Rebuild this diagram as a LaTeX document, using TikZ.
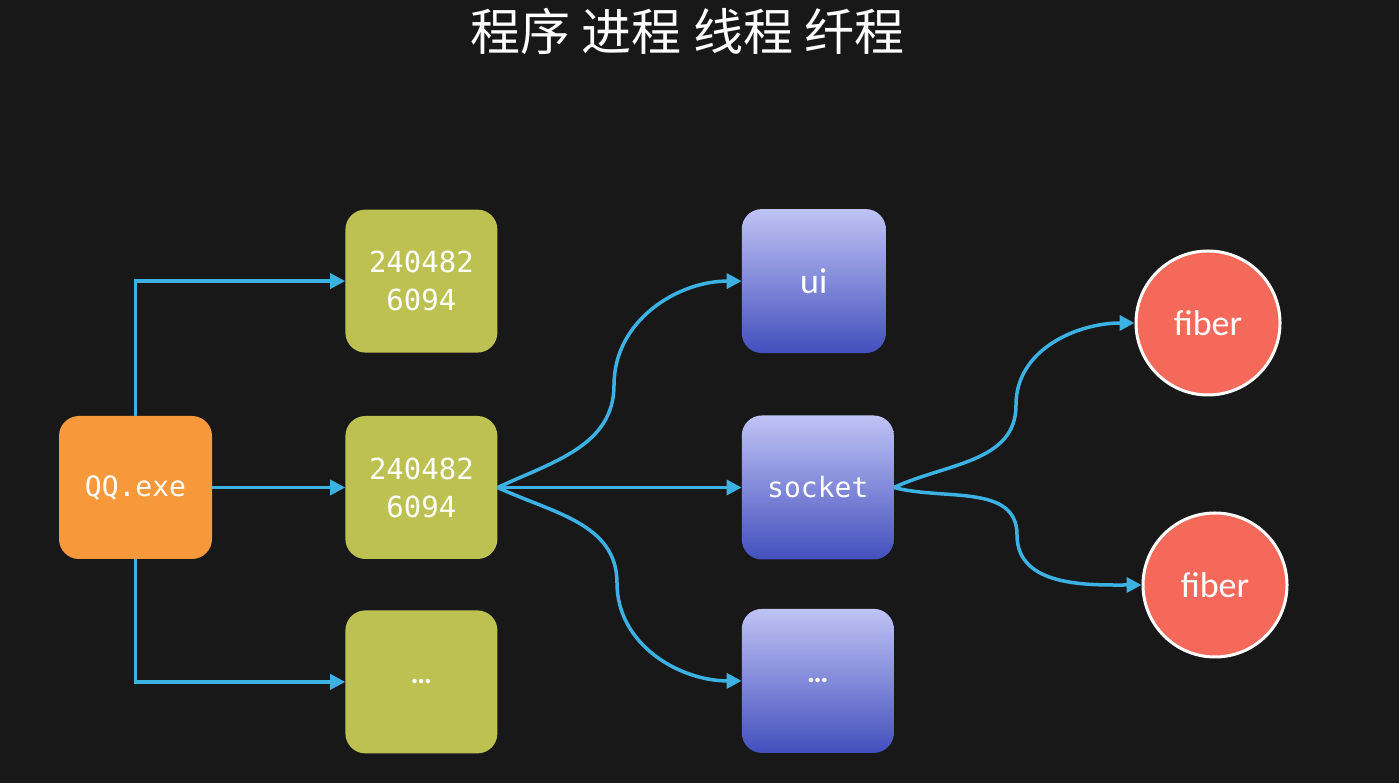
\documentclass[tikz,border=0pt]{standalone}
\usepackage{fontspec}
\setsansfont{Carlito}
\setmonofont{DejaVu Sans Mono}
\newfontfamily\cjk{Noto Sans CJK SC}
\usetikzlibrary{arrows.meta,positioning}
\definecolor{board}{HTML}{181818}
\definecolor{exeorange}{HTML}{F7993A}
\definecolor{pidgreen}{HTML}{BCC152}
\definecolor{thrtop}{HTML}{C0C3F5}
\definecolor{thrbot}{HTML}{4350BD}
\definecolor{fibred}{HTML}{F4695A}
\definecolor{wire}{HTML}{3CB2E4}
\tikzset{
  procbox/.style={
    rectangle, rounded corners=20pt, fill=exeorange, text=white,
    minimum width=153pt, minimum height=143pt,
    font=\fontsize{28}{32}\selectfont\ttfamily
  },
  pidbox/.style={
    rectangle, rounded corners=20pt, fill=pidgreen, text=white,
    minimum width=152pt, minimum height=143pt, align=center,
    font=\fontsize{29}{38}\selectfont\ttfamily
  },
  threadbox/.style={
    rectangle, rounded corners=20pt, top color=thrtop, bottom color=thrbot,
    text=white, minimum width=#1, minimum height=144pt
  },
  threadbox/.default=152pt,
  fiberball/.style={
    circle, draw=white, line width=3pt, fill=fibred, text=white,
    minimum size=144pt, font=\fontsize{36}{40}\selectfont\sffamily
  },
  flowarrow/.style={
    -{Triangle[length=15pt,width=15pt]}, line width=3.5pt, color=wire
  },
  dotsfont/.style={font=\fontsize{30}{34}\selectfont\sffamily\bfseries},
}

\begin{document}
\begin{tikzpicture}[x=1pt, y=1pt]
\fill[board] (0,0) rectangle (1399,783);
\useasboundingbox (0,0) rectangle (1399,783);
\node[font=\cjk\fontsize{50}{58}\selectfont, text=white] (title) at (687.5,752) {程序 进程 线程 纤程};

% program and processes
\node[procbox] (qq) at (135.5,295.5) {QQ.exe};
\node[pidbox, right=133pt of qq] (pid-mid) {240482\\6094};
\node[pidbox, above=63pt of pid-mid] (pid-top) {240482\\6094};
\node[pidbox, below=51pt of pid-mid, dotsfont] (pid-bot) {…};
\draw[flowarrow] (qq.north) |- (pid-top.west);
\draw[flowarrow] (qq) -- (pid-mid);
\draw[flowarrow] (qq.south) |- (pid-bot.west);

% threads
\node[threadbox, right=244pt of pid-mid, font=\fontsize{28}{32}\selectfont\ttfamily] (sock) {socket};
\node[threadbox=144pt, above=62pt of sock, xshift=-4pt, font=\fontsize{36}{40}\selectfont\sffamily] (ui) {ui};
\node[threadbox, below=49pt of sock, dotsfont] (thr-dots) {…};
\coordinate (bend-ui) at (614,398);
\coordinate (bend-dots) at (617,200);
\draw[flowarrow] (pid-mid.east) to[out=25,in=-90] (bend-ui) to[out=90,in=180] (ui.west);
\draw[flowarrow] (pid-mid) -- (sock);
\draw[flowarrow] (pid-mid.east) to[out=-25,in=90] (bend-dots) to[out=-90,in=180] (thr-dots.west);

% fibers
\node[fiberball] (fib-top) at (1208,460) {fiber};
\node[fiberball] (fib-bot) at (1215,198) {fiber};
\coordinate (bend-ft) at (1016,378);
\coordinate (bend-fb) at (1017,248);
\draw[flowarrow] (sock.east) to[out=25,in=-90] (bend-ft) to[out=90,in=180] (fib-top.west);
\draw[flowarrow] (sock.east) to[out=-15,in=90] (bend-fb) to[out=-90,in=180] (fib-bot.west);
\end{tikzpicture}
\end{document}
